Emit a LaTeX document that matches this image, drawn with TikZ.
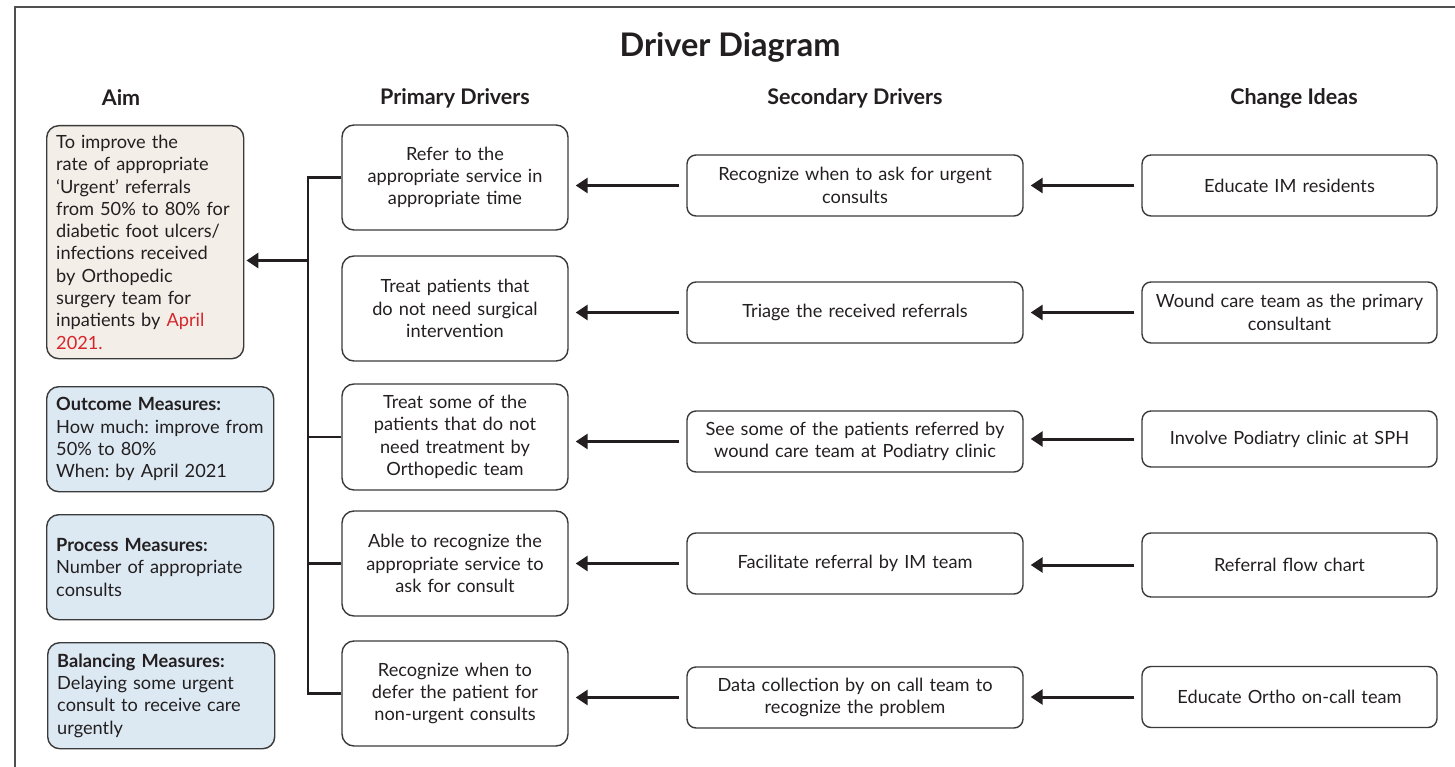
\documentclass[tikz,border=0pt]{standalone}
\usepackage{fontspec}
\setmainfont{Lato}
\usetikzlibrary{arrows.meta}
\definecolor{ink}{HTML}{231F20}
\definecolor{edge}{HTML}{3A3A3A}
\definecolor{framec}{HTML}{505050}
\definecolor{aimfill}{HTML}{F4EEE8}
\definecolor{measfill}{HTML}{DCE9F3}
\definecolor{redtxt}{HTML}{D5262C}
\frenchspacing
\begin{document}
\begin{tikzpicture}[x=1pt,y=-1pt,
  every node/.style={text=ink, font=\fontsize{18.2}{22.3}\selectfont},
  box/.style={draw=edge, line width=1.4pt, rounded corners=12pt, align=center, inner sep=0pt},
  pbox/.style={box, minimum width=226pt, minimum height=105pt, text width=216pt},
  sbox/.style={box, rounded corners=9pt, minimum width=336pt, minimum height=61pt, text width=330pt},
  cbox/.style={box, rounded corners=9pt, minimum width=295pt, minimum height=61pt, text width=290pt},
  mbox/.style={box, fill=measfill, anchor=north west, minimum width=227pt, minimum height=105pt, text width=208pt, align=left},
  link/.style={draw=ink, line width=3pt, -{Triangle[length=12pt,width=15pt]}, shorten >=7pt, shorten <=7pt},
  tree/.style={draw=ink, line width=2.8pt, line join=miter},
  head/.style={font=\bfseries\fontsize{21.5}{24}\selectfont},
]
\useasboundingbox (0,0) rectangle (1455,767);
\draw[framec, line width=1.6pt] (15,767) -- (15,7) -- (1456,7);

\node[font=\bfseries\fontsize{32.5}{36}\selectfont] (title) at (730,47) {Driver Diagram};
\node[head] (haim) at (121,98) {Aim};
\node[head] (hpri) at (455,98) {Primary Drivers};
\node[head] (hsec) at (855,98) {Secondary Drivers};
\node[head] (hchg) at (1294,98) {Change Ideas};

\node[box, fill=aimfill, anchor=north west, minimum width=197pt, minimum height=233pt, text width=178pt, align=left] (aim) at (46,125)
 {To improve the\\rate of appropriate\\‘Urgent’ referrals\\from 50\% to 80\% for\\diabetic foot ulcers/\\infections received\\by Orthopedic\\surgery team for\\inpatients by \textcolor{redtxt}{April}\\\textcolor{redtxt}{2021.}};

\node[mbox] (out) at (46,386) {\textbf{Outcome Measures:}\\How much: improve from\\50\% to 80\%\\When: by April 2021};
\node[mbox] (proc) at (46,514) {\textbf{Process Measures:}\\Number of appropriate\\consults};
\node[mbox, minimum height=106pt] (bal) at (47,642) {\textbf{Balancing Measures:}\\Delaying some urgent\\consult to receive care\\urgently};

\node[pbox] (p1) at (455,177.5) {Refer to the\\appropriate service in\\appropriate time};
\node[pbox] (p2) at (455,308.5) {Treat patients that\\do not need surgical\\intervention};
\node[pbox, minimum height=106pt] (p3) at (455,437) {Treat some of the\\patients that do not\\need treatment by\\Orthopedic team};
\node[pbox] (p4) at (455,563.5) {Able to recognize the\\appropriate service to\\ask for consult};
\node[pbox] (p5) at (455,693.5) {Recognize when to\\defer the patient for\\non-urgent consults};

\node[sbox] (s1) at (855,185.5) {Recognize when to ask for urgent\\consults};
\node[sbox] (s2) at (855,312.5) {Triage the received referrals};
\node[sbox] (s3) at (855,441.5) {See some of the patients referred by\\wound care team at Podiatry clinic};
\node[sbox] (s4) at (855,563.5) {Facilitate referral by IM team};
\node[sbox] (s5) at (855,697.5) {Data collection by on call team to\\recognize the problem};

\node[cbox] (c1) at (1289.5,185.5) {Educate IM residents};
\node[cbox] (c2) at (1289.5,312.5) {Wound care team as the primary\\consultant};
\node[cbox, minimum height=56pt] (c3) at (1289.5,439) {Involve Podiatry clinic at SPH};
\node[cbox, minimum height=64pt] (c4) at (1289.5,565) {Referral flow chart};
\node[cbox] (c5) at (1289.5,697) {Educate Ortho on-call team};

\coordinate (tt) at (308,177.5);
\coordinate (tb) at (308,693.5);
\coordinate (tj) at (308,260.5);
\draw[tree] (p1.west) -- (tt) -- (tb) -- (p5.west);
\draw[tree] (p3.west) -- (p3.west -| tt);
\draw[tree] (p4.west) -- (p4.west -| tt);
\draw[link, shorten <=0pt, shorten >=2pt] (tj) -- (tj -| aim.east);

\foreach \i in {1,...,5}{
  \draw[link] (s\i.west) -- (s\i.west -| p\i.east);
  \draw[link] (c\i.west) -- (c\i.west -| s\i.east);
}
\end{tikzpicture}
\end{document}
